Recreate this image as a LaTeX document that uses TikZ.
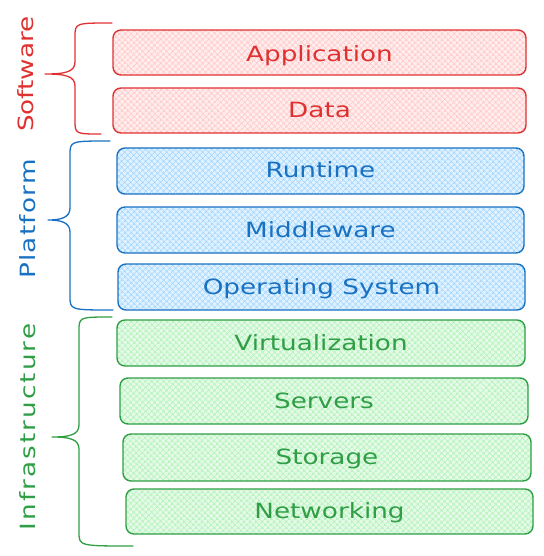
\documentclass[tikz,border=0pt]{standalone}
\usepackage{fontspec}
\setmainfont{DejaVu Sans}[FakeStretch=1.25]
\usetikzlibrary{patterns.meta}
\definecolor{rs}{HTML}{E03131}\definecolor{rf}{HTML}{FFC9C9}
\definecolor{bs}{HTML}{1971C2}\definecolor{bf}{HTML}{A5D8FF}
\definecolor{gs}{HTML}{2F9E44}\definecolor{gf}{HTML}{B2F2BB}
\tikzset{
  layer/.style n args={2}{draw=#1, text=#1, line width=1.4pt, rounded corners=8pt,
    preaction={fill=#2!35},
    pattern={Hatch[angle=45,distance=4pt,line width=0.7pt]}, pattern color=#2,
    font=\fontsize{21}{24}\selectfont, inner sep=0pt, text height=16pt, text depth=2pt},
  redbox/.style={layer={rs}{rf}},
  bluebox/.style={layer={bs}{bf}},
  greenbox/.style={layer={gs}{gf}},
  side/.style={rotate=90, font=\fontsize{21}{24}\selectfont, inner sep=0pt},
  brace/.style={line width=1.3pt, line cap=round, line join=round},
}
\newcommand{\bracepath}[8]{% top(x,y) vx tip(x,y) bottom(x,y) color
  \draw[brace, #8] (#1,#2) .. controls (#3,#2) and (#3,#2) .. (#3,#2+14)
    -- (#3,#5-12) .. controls (#3,#5-2) and (#3-10,#5) .. (#4,#5)
    .. controls (#3-10,#5) and (#3,#5+2) .. (#3,#5+12)
    -- (#3,#7-14) .. controls (#3,#7) and (#3,#7) .. (#6,#7);}
\begin{document}
\begin{tikzpicture}[x=1pt,y=-1pt]
\useasboundingbox (0,0) rectangle (543,556);
% Software
\node[redbox, minimum width=413pt, minimum height=45pt] (app) at (319.5,52.5) {\raisebox{-2pt}{Application}};
\node[redbox, minimum width=413pt, minimum height=45pt] (data) at (319.5,110.5) {Data};
% Platform
\node[bluebox, minimum width=407pt, minimum height=46pt] (rt) at (320.5,171) {Runtime};
\node[bluebox, minimum width=407pt, minimum height=46pt] (mw) at (320.5,230) {Middleware};
\node[bluebox, minimum width=407pt, minimum height=46pt] (os) at (321.5,287) {Operating System};
% Infrastructure
\node[greenbox, minimum width=408pt, minimum height=46pt] (vz) at (321,343) {Virtualization};
\node[greenbox, minimum width=408pt, minimum height=46pt] (sv) at (324,401) {Servers};
\node[greenbox, minimum width=408pt, minimum height=47pt] (st) at (327,457.5) {Storage};
\node[greenbox, minimum width=407pt, minimum height=45pt] (nw) at (329.5,511.5) {Networking};
% side labels
\node[side, text=rs] (swl) at (26,74) {Software};
\node[side, text=bs] (pfl) at (28,219) {\addfontfeature{LetterSpace=6}Platform};
\node[side, text=gs] (ifl) at (28,427) {\addfontfeature{LetterSpace=10}Infrastructure};
% braces
\bracepath{112}{23}{75}{45}{74}{101}{134}{rs}
\bracepath{110}{141}{70}{48}{220}{113}{310}{bs}
\bracepath{112}{317}{79}{52}{437}{133}{546}{gs}
\end{tikzpicture}
\end{document}
